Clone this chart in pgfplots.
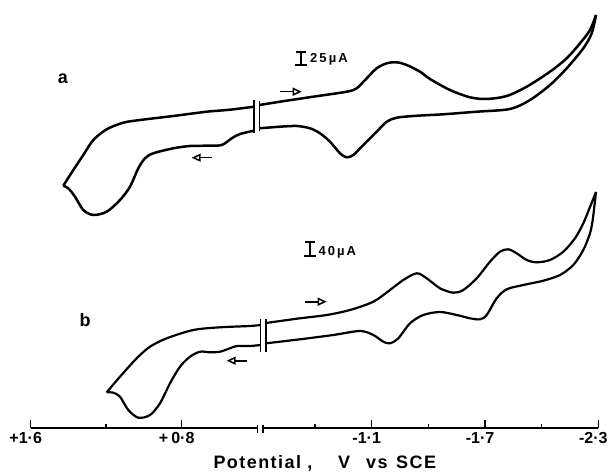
\documentclass[border=0pt]{standalone}
\usepackage{fontspec}
\setmainfont{Liberation Sans}
\newfontfamily\titlefont[LetterSpace=8]{Liberation Sans}
\newfontfamily\scalefont[LetterSpace=16]{Liberation Sans}
\usepackage{pgfplots}
\pgfplotsset{compat=1.18}
\usetikzlibrary{arrows.meta}

\begin{document}
\begin{tikzpicture}
\begin{axis}[
  x=1pt, y=1pt,
  xmin=30.7, xmax=598.3, ymin=0, ymax=428,
  axis x line=bottom, axis y line=none,
  x axis line style={draw=none},
  ytick=\empty,
  clip=false,
  xtick={30.7,181.7,371.7,485,598.3},
  xticklabels={+1·6,+\hspace{3pt}0·8,-1·1,-1·7,-2·3},
  minor xtick={106,315,428.3,541.7},
  tick align=inside,
  major tick length=8pt, minor tick length=4.5pt,
  tick style={black, line width=1.5pt},
  minor tick style={black, line width=1.5pt},
  xticklabel style={font=\bfseries\fontsize{16}{18}\selectfont, xshift=-5pt, inner sep=0pt, yshift=-4.5pt},
]
% ---- curve a ----
\addplot[line width=2.5pt, smooth] coordinates {(63.3,242.3) (73.3,258) (83.3,273) (93.3,288) (106.7,298.7) (123.3,305.3) (140,308) (173.3,312) (206.7,316.3) (230,318.3) (254,321.3)};
\addplot[line width=2.5pt, smooth] coordinates {(63.3,242.3) (68.3,239.7) (75,231.3) (83.3,218) (93.3,213) (106.7,216.3) (120,228) (130,241.3) (138.3,259.7) (145,269.7) (153.3,274.7) (173.3,279.7) (190,282) (206.7,282.3) (221.7,283) (231.7,289.7) (240,294) (254,297.3)};
\addplot[line width=2.5pt, smooth] coordinates {(259.5,323) (280,326.3) (313.3,331.3) (346.7,336.3) (356.7,339.7) (366.7,349.7) (376.7,359.7) (386.7,364.7) (396.7,365.7) (406.7,363) (420,356.3) (430,349) (450,338) (470,330.7) (486.7,329) (506.7,332) (526.7,341.3) (550,356.3) (566.7,369.7) (580,384.7) (590,398) (596,413)};
\addplot[line width=2.5pt, smooth] coordinates {(596,413) (591.7,394.7) (583.3,379.7) (566.7,359.7) (550,343) (530,328) (510,319) (476.7,316.3) (443.3,313.7) (430,313) (413.3,312) (396.7,310.3) (386.7,306.3) (376.7,296.3) (363.3,283) (353.3,273) (346.7,270.7) (340,274.7) (330,286.3) (320,294.7) (310,299.7) (296.7,302) (280,301.3) (259.5,299.7)};
% ---- curve b ----
\addplot[line width=2.2pt, smooth] coordinates {(106.7,35.7) (120,51.3) (136.7,69.7) (150,81.3) (166.7,89.7) (193.3,98) (220,100.7) (250,102) (260.5,103)};
\addplot[line width=2.2pt, smooth] coordinates {(106.7,35.7) (113.3,35.3) (120,31.3) (128.3,18) (138.3,10.3) (150,13) (160,24.7) (170,44.7) (180,61.3) (190,71.3) (200,76.3) (210,75.7) (220,76.3) (230,79.7) (236.7,82) (250,82) (260.5,83)};
\addplot[line width=2.2pt, smooth] coordinates {(266,105) (300,109.7) (326.7,113) (350,118) (373.3,126.3) (390,138) (403.3,148) (416.7,154.7) (426.7,149.7) (440,139.7) (453.3,135.3) (463.3,138) (476.7,149.7) (490,166.3) (500,176.3) (508.3,178.7) (516.7,174.7) (526.7,168) (536.7,165.7) (550,168) (563.3,176.3) (575,189.7) (583.3,204.7) (590,221) (596,236)};
\addplot[line width=2.2pt, smooth] coordinates {(596,236) (594.5,223) (592.7,208) (590,194.7) (583.3,178) (573.3,163) (560,153) (543.3,147.3) (523.3,143) (506.7,138.7) (496.7,129.7) (486.7,113) (480,108.7) (470,109.7) (456.7,113) (440,116) (423.3,113) (410,104.7) (398.3,89.7) (390,84.7) (383.3,86.3) (373.3,93) (360,97) (333.3,93) (300,88.7) (266,84.7)};

% break bars on curves
\draw[line width=1.8pt] (axis cs:254,328) -- (axis cs:254,295);
\draw[line width=1.8pt] (axis cs:259.5,327) -- (axis cs:259.5,297);
\draw[line width=1.8pt] (axis cs:260.5,108.7) -- (axis cs:260.5,76.3);
\draw[line width=1.8pt] (axis cs:266,108.7) -- (axis cs:266,76.3);

% potential axis line with break
\draw[line width=1.5pt] (axis cs:30.7,0) -- (axis cs:257.5,0);
\draw[line width=1.5pt] (axis cs:263,0) -- (axis cs:598.3,0);
\draw[line width=1.5pt] (axis cs:257.5,3.3) -- (axis cs:257.5,-4.7);
\draw[line width=1.5pt] (axis cs:263,3.3) -- (axis cs:263,-4.7);

% scan direction arrows
\draw[line width=1.6pt, -{Triangle[open, length=9pt, width=8pt, line width=1.5pt]}] (axis cs:280,336.3) -- (axis cs:301.7,336.3);
\draw[line width=1.6pt, -{Triangle[open, length=9pt, width=8pt, line width=1.5pt]}] (axis cs:211.7,270.3) -- (axis cs:191.7,270.3);
\draw[line width=1.6pt, -{Triangle[open, length=9pt, width=8pt, line width=1.5pt]}] (axis cs:305,126.3) -- (axis cs:326.7,126.3);
\draw[line width=1.6pt, -{Triangle[open, length=9pt, width=8pt, line width=1.5pt]}] (axis cs:246.7,67.3) -- (axis cs:226.7,67.3);

% current scale bars
\draw[line width=2.4pt] (axis cs:300.7,375.7) -- (axis cs:300.7,363);
\draw[line width=2.2pt] (axis cs:296,375.7) -- (axis cs:305.5,375.7);
\draw[line width=2.2pt] (axis cs:295,363) -- (axis cs:306.5,363);
\node[anchor=base west, inner sep=0pt, font=\scalefont\bfseries\fontsize{13}{15}\selectfont] at (axis cs:310,365.5) {25µA};
\draw[line width=2.4pt] (axis cs:310,185.7) -- (axis cs:310,172);
\draw[line width=2.2pt] (axis cs:305,185.7) -- (axis cs:315,185.7);
\draw[line width=2.2pt] (axis cs:304,172) -- (axis cs:316,172);
\node[anchor=base west, inner sep=0pt, font=\scalefont\bfseries\fontsize{13}{15}\selectfont] at (axis cs:318.3,172.5) {40µA};

% panel letters
\node[font=\fontsize{18}{20}\selectfont\bfseries] at (axis cs:63,349) {a};
\node[font=\fontsize{18}{20}\selectfont\bfseries] at (axis cs:85,108) {b};

% axis title
\node[anchor=base west, inner sep=0pt, font=\titlefont\bfseries\fontsize{18}{20}\selectfont] at (axis cs:213.3,-40.7) {Potential ,};
\node[anchor=base west, inner sep=0pt, font=\titlefont\bfseries\fontsize{18}{20}\selectfont] at (axis cs:338,-40.7) {V};
\node[anchor=base west, inner sep=0pt, font=\titlefont\bfseries\fontsize{18}{20}\selectfont] at (axis cs:366,-40.7) {vs};
\node[anchor=base west, inner sep=0pt, font=\titlefont\bfseries\fontsize{18}{20}\selectfont] at (axis cs:396,-40.7) {SCE};

\path (axis cs:0,-44) rectangle (axis cs:610,428);
\end{axis}
\end{tikzpicture}
\end{document}
